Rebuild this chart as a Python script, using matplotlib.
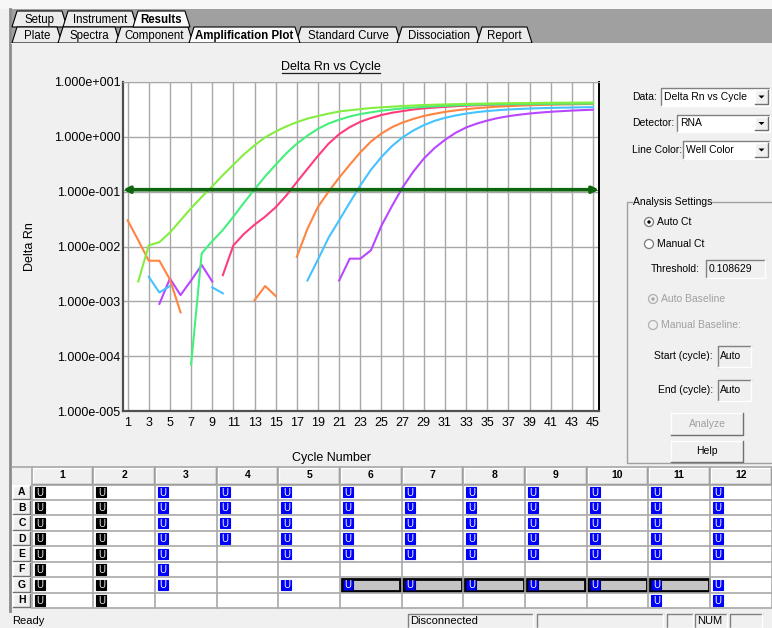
import numpy as np
import matplotlib.pyplot as plt
from matplotlib.patches import Rectangle, Polygon, Circle
from matplotlib.ticker import FixedLocator, NullLocator, FuncFormatter

plt.rcParams['font.family'] = ['Liberation Sans', 'DejaVu Sans']

W, H = 772, 628
nan = np.nan

# Delta Rn per cycle, one list per well colour (nan = point not drawn)
cycles = np.arange(1, 46)
lime = [nan, 2.3e-3, 1.05e-2, 1.2e-2, 1.8e-2, 3.0e-2, 5.0e-2, 8.0e-2, 0.125, 0.2,
        0.31, 0.48, 0.7, 0.98, 1.25, 1.55, 1.85, 2.15, 2.4, 2.65,
        2.9, 3.05, 3.2, 3.35, 3.45, 3.55, 3.65, 3.72, 3.8, 3.85,
        3.9, 3.94, 3.98, 4.02, 4.05, 4.08, 4.1, 4.12, 4.14, 4.16,
        4.18, 4.19, 4.2, 4.21, 4.22]
spring = [nan, nan, nan, nan, nan, nan, 7e-5, 7.5e-3, 1.25e-2, 2.0e-2,
          3.5e-2, 6.3e-2, 0.11, 0.19, 0.31, 0.5, 0.75, 1.05, 1.4, 1.75,
          2.05, 2.35, 2.6, 2.8, 3.0, 3.15, 3.3, 3.42, 3.52, 3.6,
          3.68, 3.74, 3.8, 3.85, 3.88, 3.9, 3.93, 3.95, 3.97, 3.99,
          4.0, 4.02, 4.03, 4.04, 4.05]
pink = [nan, nan, nan, nan, nan, nan, nan, nan, nan, 3.0e-3,
        1.05e-2, 1.7e-2, 2.5e-2, 3.5e-2, 5.2e-2, 8.5e-2, 0.15, 0.26, 0.45, 0.75,
        1.12, 1.5, 1.88, 2.2, 2.5, 2.75, 2.95, 3.15, 3.3, 3.42,
        3.52, 3.62, 3.7, 3.76, 3.82, 3.87, 3.91, 3.95, 3.98, 4.01,
        4.04, 4.06, 4.08, 4.1, 4.12]
orange = [3.0e-2, 1.3e-2, 5.5e-3, 5.5e-3, 2.5e-3, 6.3e-4, nan, nan, nan, nan,
          nan, nan, 1.05e-3, 1.9e-3, 1.25e-3, nan, 6.5e-3, 2.1e-2, 5.3e-2, 0.1,
          0.18, 0.31, 0.52, 0.82, 1.15, 1.5, 1.82, 2.12, 2.4, 2.63,
          2.85, 3.03, 3.2, 3.33, 3.45, 3.55, 3.63, 3.7, 3.76, 3.81,
          3.85, 3.89, 3.92, 3.95, 3.97]
sky = [nan, nan, 2.8e-3, 1.45e-3, 1.9e-3, nan, nan, nan, 1.8e-3, 1.4e-3,
       nan, nan, nan, nan, nan, nan, nan, 2.4e-3, 5.8e-3, 1.45e-2,
       3.0e-2, 6.3e-2, 0.13, 0.25, 0.43, 0.68, 0.98, 1.3, 1.63, 1.95,
       2.22, 2.45, 2.65, 2.82, 2.95, 3.06, 3.15, 3.22, 3.28, 3.33,
       3.37, 3.4, 3.43, 3.46, 3.48]
purple = [nan, nan, nan, 9e-4, 2.6e-3, 1.3e-3, 2.4e-3, 4.6e-3, 2.3e-3, nan,
          nan, nan, nan, nan, nan, nan, nan, nan, nan, nan,
          2.4e-3, 6.0e-3, 6.0e-3, 8.5e-3, 2.4e-2, 5.5e-2, 0.12, 0.23, 0.4, 0.62,
          0.88, 1.18, 1.48, 1.74, 1.98, 2.2, 2.38, 2.53, 2.66, 2.77,
          2.86, 2.94, 3.01, 3.07, 3.12]
series = [(purple, '#b847ff'), (sky, '#45c3ff'), (orange, '#ff8440'),
          (pink, '#ff3d7a'), (spring, '#44f07c'), (lime, '#84ee40')]
threshold = 0.108629

# plate layout
plate_rows = list('ABCDEFGH')
plate_cols = list(range(1, 13))
black_cols = [1, 2]
used = {3: 'ABCDEFG', 4: 'ABCD', 5: 'ABCDEG', 6: 'ABCDEG', 7: 'ABCDEG',
        8: 'ABCDEG', 9: 'ABCDEG', 10: 'ABCDEG', 11: 'ABCDEGH', 12: 'ABCDEGH'}
selected = [('G', c) for c in range(6, 12)]

top_tabs = ['Setup', 'Instrument', 'Results']
top_edges = [12, 65, 135, 188]
sub_tabs = ['Plate', 'Spectra', 'Component', 'Amplification Plot',
            'Standard Curve', 'Dissociation', 'Report']
sub_edges = [12, 60, 118, 191, 298, 399, 479, 530]

fig = plt.figure(figsize=(W / 100, H / 100), dpi=100, facecolor='#f0f0f0')
ui = fig.add_axes([0, 0, 1, 1])
ui.set_xlim(0, W)
ui.set_ylim(H, 0)
ui.axis('off')


def rect(x0, y0, x1, y1, fc='none', ec='none', lw=1, **kw):
    ui.add_patch(Rectangle((x0, y0), x1 - x0, y1 - y0, fc=fc, ec=ec, lw=lw, **kw))


def sunken(x0, y0, x1, y1, fc='white'):
    rect(x0, y0, x1, y1, fc=fc)
    ui.plot([x0, x0, x1], [y1, y0, y0], color='#808080', lw=1)
    ui.plot([x0, x1, x1], [y1, y1, y0], color='#ffffff', lw=1)


def raised(x0, y0, x1, y1, fc='#f0f0f0'):
    rect(x0, y0, x1, y1, fc=fc)
    ui.plot([x0, x0, x1], [y1, y0, y0], color='#ffffff', lw=1)
    ui.plot([x0, x1, x1], [y1, y1, y0], color='#707070', lw=1)


def label(x, y, s, size=7.5, **kw):
    ui.text(x, y, s, fontsize=size, va='center', **kw)


# window background pieces
rect(0, 0, W, 9, fc='#f7f7f7')
rect(11, 9, W, 43, fc='#a0a0a0')
ui.plot([10, 10], [9, 611], color='#8c8c8c', lw=2)


def tab(x0, x1, yt, yb, s, active):
    fc = '#fbfbfb' if active else '#ececec'
    ui.add_patch(Polygon([[x0, yb], [x0 + 5, yt], [x1 - 5, yt], [x1, yb]],
                         closed=True, fc=fc, ec='black', lw=0.8,
                         zorder=3 if active else 2))
    ui.text((x0 + x1) / 2, (yt + yb) / 2 + 1, s, ha='center', va='center',
            fontsize=8.3, fontweight='bold' if active else 'normal', zorder=4)


for i, s in enumerate(top_tabs):
    tab(top_edges[i] - (2 if i else 0), top_edges[i + 1] + 2, 11, 27, s, s == 'Results')
for i, s in enumerate(sub_tabs):
    tab(sub_edges[i] - (2 if i else 0), sub_edges[i + 1] + 2, 27, 43, s,
        s == 'Amplification Plot')
rect(11, 43, W, 44, fc='#f0f0f0', zorder=5)

# amplification plot
ax = fig.add_axes([123 / W, 1 - 411 / H, 476 / W, 329 / H])
ax.set_facecolor('white')
ax.set_yscale('log')
ax.set_ylim(1e-5, 1e1)
ax.set_xlim(0.56, 45.57)
for vals, col in series:
    ax.plot(cycles, vals, color=col, lw=1.5)
ax.set_xticks(cycles[::2])
ax.yaxis.set_major_locator(FixedLocator(10.0 ** np.arange(-5, 2)))
ax.yaxis.set_minor_locator(NullLocator())
ax.yaxis.set_major_formatter(FuncFormatter(
    lambda v, p: '1.000e%+04d' % round(np.log10(v))))
ax.grid(True, color='#a8a8a8', lw=1)
ax.set_axisbelow(True)
ax.tick_params(length=0, labelsize=9)
ax.tick_params(axis='y', pad=2)
ax.tick_params(axis='x', pad=4)
for side in ['left', 'bottom']:
    ax.spines[side].set_color('#505050')
    ax.spines[side].set_linewidth(1.6)
ax.spines['right'].set_color('black')
ax.spines['right'].set_linewidth(1.4)
ax.spines['top'].set_color('#a8a8a8')
ax.annotate('', xy=(1, threshold), xytext=(0, threshold),
            xycoords=('axes fraction', 'data'), textcoords=('axes fraction', 'data'),
            arrowprops=dict(arrowstyle='<|-|>', color='#0d650d', lw=2.6,
                            shrinkA=0, shrinkB=0, mutation_scale=9))
ax.axhline(threshold, color='#3d9e3d', lw=0.7)
ax.text(0.437, 1.045, 'Delta Rn vs Cycle', transform=ax.transAxes,
        ha='center', va='center', fontsize=9)
ax.set_ylabel('Delta Rn', fontsize=9)
ax.yaxis.set_label_coords(-0.183, 0.5)
ax.set_xlabel('Cycle Number', fontsize=9)
ax.xaxis.set_label_coords(0.439, -0.125)
ui.plot([282, 380], [73, 73], color='#202020', lw=0.9)

# right side controls
label(632, 97, 'Data:')
label(632, 123, 'Detector:')
label(632, 150, 'Line Color:')


def combo(x0, y0, x1, y1, s):
    sunken(x0, y0, x1, y1)
    raised(x1 - 15, y0 + 2, x1 - 2, y1 - 2)
    cx, cy = x1 - 8.5, (y0 + y1) / 2
    ui.add_patch(Polygon([[cx - 3, cy - 1.5], [cx + 3, cy - 1.5], [cx, cy + 1.5]],
                         closed=True, fc='black', ec='none'))
    label(x0 + 3, cy, s)


combo(661, 88, 770, 106, 'Delta Rn vs Cycle')
combo(677, 115, 770, 132, 'RNA')
combo(683, 141, 770, 159, 'Well Color')

# analysis settings group box
gx0, gy0, gx1, gy1 = 627, 202, 771, 463
ui.plot([gx0 + 5, gx0, gx0, gx1], [gy0, gy0, gy1, gy1], color='#a0a0a0', lw=1)
ui.plot([712, gx1], [gy0, gy0], color='#a0a0a0', lw=1)
label(633, gy0, 'Analysis Settings')


def radio(x, y, s, checked=False, enabled=True):
    ui.add_patch(Circle((x, y), 4.5, fc='white' if enabled else '#f0f0f0',
                        ec='#7a7a7a' if enabled else '#b0b0b0', lw=0.9))
    if checked:
        ui.add_patch(Circle((x, y), 1.7, fc='black' if enabled else '#a8a8a8', ec='none'))
    label(x + 8, y, s, color='black' if enabled else '#a0a0a0')


radio(649, 222, 'Auto Ct', checked=True)
radio(649, 244, 'Manual Ct')
label(700, 269, 'Threshold:', ha='right')
sunken(706, 260, 765, 278, fc='#f0f0f0')
label(709, 269, '0.108629')
radio(653, 299, 'Auto Baseline', checked=True, enabled=False)
radio(653, 325, 'Manual Baseline:', enabled=False)
label(713, 356, 'Start (cycle):', ha='right')
sunken(718, 346, 751, 367, fc='#f0f0f0')
label(720, 356, 'Auto')
label(713, 390, 'End (cycle):', ha='right')
sunken(718, 380, 751, 401, fc='#f0f0f0')
label(720, 390, 'Auto')
raised(671, 413, 743, 435)
label(707, 424, 'Analyze', ha='center', color='#a0a0a0')
raised(671, 441, 743, 462)
label(707, 451.5, 'Help', ha='center')

# plate grid
x_hdr, x_c0, col_w = 12, 31.7, 61.67
y_top, y_r0, row_h = 466.5, 484.5, 15.45
y_bot = y_r0 + row_h * len(plate_rows)
rect(x_hdr, y_top, W, y_bot, fc='white')
rect(x_hdr, y_top, W, y_r0, fc='#f0f0f0')
for j, c in enumerate(plate_cols):
    cx0 = x_c0 + j * col_w
    raised(cx0 + 1, y_top + 1, cx0 + col_w - 1, y_r0 - 1)
    ui.text(cx0 + col_w / 2, (y_top + y_r0) / 2, str(c), ha='center', va='center',
            fontsize=7.5, fontweight='bold')
for i, r in enumerate(plate_rows):
    ry0 = y_r0 + i * row_h
    raised(x_hdr + 1, ry0 + 1, x_c0 - 2, ry0 + row_h - 1)
    ui.text((x_hdr + x_c0) / 2, ry0 + row_h / 2, r, ha='center', va='center',
            fontsize=7.5, fontweight='bold')
for i in range(len(plate_rows) + 1):
    ui.plot([x_c0, W], [y_r0 + i * row_h] * 2, color='#a8a8a8', lw=1.2)
for j in range(len(plate_cols) + 1):
    ui.plot([x_c0 + j * col_w] * 2, [y_top, y_bot], color='#a8a8a8', lw=1.2)
ui.plot([x_hdr, W], [y_top, y_top], color='#a8a8a8', lw=1.2)

for j, c in enumerate(plate_cols):
    rows_used = plate_rows if c in black_cols else list(used.get(c, ''))
    for r in rows_used:
        i = plate_rows.index(r)
        cx0 = x_c0 + j * col_w
        ry0 = y_r0 + i * row_h
        if (r, c) in selected:
            rect(cx0 + 1.5, ry0 + 1.5, cx0 + col_w - 1.5, ry0 + row_h - 1.5,
                 fc='#c4c4c4', ec='black', lw=2)
        fc = 'black' if c in black_cols else '#0000ff'
        ec = '#00007a' if (r, c) in selected else fc
        rect(cx0 + 3, ry0 + 2.5, cx0 + 13, ry0 + row_h - 2.5, fc=fc, ec=ec, lw=0.8)
        ui.text(cx0 + 8, ry0 + row_h / 2 + 0.5, 'U', ha='center', va='center',
                fontsize=7, color='#e8e8e8' if c in black_cols else 'white')

# status bar
rect(0, 611, W, H, fc='#f0f0f0')
label(12, 621, 'Ready', size=8)
for x0, x1, s in [(408, 533, 'Disconnected'), (537, 663, ''), (667, 693, ''),
                  (695, 727, 'NUM'), (730, 762, '')]:
    sunken(x0, 614, x1, 628, fc='#f0f0f0')
    label(x0 + 2, 621.5, s, size=8)

fig.savefig('out.png', dpi=100, facecolor=fig.get_facecolor())
